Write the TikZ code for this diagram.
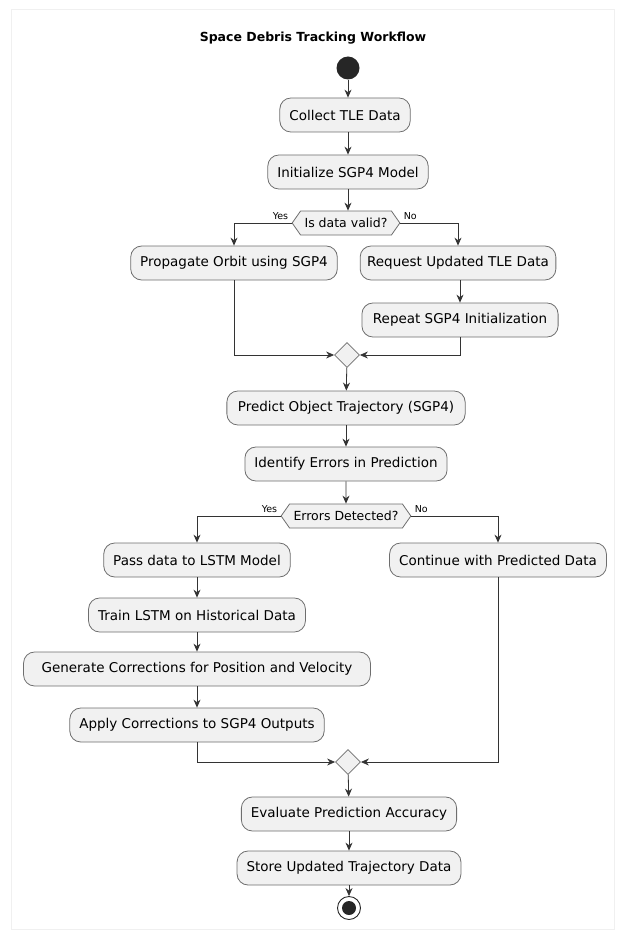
\documentclass[tikz,border=0pt]{standalone}
\usepackage{fontspec}
\setmainfont{DejaVu Sans}
\usetikzlibrary{arrows.meta,shapes.geometric,shapes.symbols}
\definecolor{boxfill}{HTML}{F1F1F1}
\definecolor{boxline}{HTML}{6E6E6E}
\tikzset{
    activity/.style={draw=boxline, fill=boxfill, line width=0.8pt, rounded corners=11pt,
        minimum height=34pt, inner xsep=9.5pt, font=\fontsize{13.5}{16}\selectfont},
    choice/.style={draw=boxline, fill=boxfill, line width=0.8pt, signal, signal to=west and east,
        signal pointer angle=110, minimum height=24pt, inner xsep=4pt, inner ysep=2pt,
        font=\fontsize{12.5}{15}\selectfont},
    merge/.style={draw=boxline, fill=boxfill, line width=0.8pt, diamond, minimum size=25pt, inner sep=0pt},
    flow/.style={draw=black!80, line width=0.8pt, -{Stealth[length=8pt,width=7pt]}},
    branch/.style={font=\fontsize{9.5}{11}\selectfont}
}
\begin{document}
\begin{tikzpicture}[x=1pt,y=-1pt]
        % Frame
        \useasboundingbox (0,0) rectangle (621,936);
        \draw[black!6, line width=0.8pt] (11,9) rectangle (614,929);
        
        % Title
        \node[font=\bfseries\fontsize{12.5}{15}\selectfont] (title) at (313,38) {Space Debris Tracking Workflow};
        
        % Start
        \node[circle, fill=black!85, minimum size=23pt, inner sep=0pt] (start) at (348,68) {};
        
        % Activities down to the first choice
        \node[activity] (collect) at (345,115) {Collect TLE Data};
        \node[activity] (init) at (348,172) {Initialize SGP4 Model};
        \node[choice] (valid) at (346,223) {Is data valid?};
        \node[branch, anchor=south east] (yes1) at (valid.west) {Yes};
        \node[branch, anchor=south west] (no1) at (valid.east) {No};
        
        \node[activity] (propagate) at (234,263) {Propagate Orbit using SGP4};
        \node[activity, inner xsep=7pt] (request) at (458,263) {Request Updated TLE Data};
        \node[activity, inner xsep=11pt] (repeat) at (460,320) {Repeat SGP4 Initialization};
        \node[merge] (join1) at (347,355) {};
        
        % Prediction
        \node[activity, inner xsep=11pt] (predict) at (346,408) {Predict Object Trajectory (SGP4)};
        \node[activity] (identify) at (346,464) {Identify Errors in Prediction};
        \node[choice] (errors) at (346,516) {Errors Detected?};
        \node[branch, anchor=south east] (yes2) at (errors.west) {Yes};
        \node[branch, anchor=south west] (no2) at (errors.east) {No};
        
        % LSTM branch
        \node[activity] (pass) at (197,560) {Pass data to LSTM Model};
        \node[activity] (train) at (197,615) {Train LSTM on Historical Data};
        \node[activity, inner xsep=18pt] (generate) at (197,669) {Generate Corrections for Position and Velocity};
        \node[activity] (apply) at (197,725) {Apply Corrections to SGP4 Outputs};
        \node[activity] (continue) at (498,560) {Continue with Predicted Data};
        \node[merge] (join2) at (348,762) {};
        
        % Final steps
        \node[activity] (evaluate) at (349,814) {Evaluate Prediction Accuracy};
        \node[activity] (store) at (349,868) {Store Updated Trajectory Data};
        \node[circle, draw=black!85, line width=0.9pt, minimum size=23pt, inner sep=0pt] (stop) at (349,908) {};
        \node[circle, fill=black!85, minimum size=14pt, inner sep=0pt] (stopdot) at (stop) {};
        
        % Connectors
        \draw[flow] (start) -- (start |- collect.north);
        \draw[flow] (collect.south -| init) -- (init);
        \draw[flow] (init) -- (init |- valid.north);
        \draw[flow] (valid.west) -| (propagate);
        \draw[flow] (valid.east) -| (request);
        \draw[flow] (request.south -| repeat) -- (repeat);
        \draw[flow] (propagate) |- (join1);
        \draw[flow] (repeat) |- (join1);
        \draw[flow] (join1) -- (predict);
        \draw[flow] (predict) -- (identify);
        \draw[flow] (identify) -- (errors);
        \draw[flow] (errors.west) -| (pass);
        \draw[flow] (errors.east) -| (continue);
        \draw[flow] (pass) -- (train);
        \draw[flow] (train) -- (generate);
        \draw[flow] (generate) -- (apply);
        \draw[flow] (apply) |- (join2);
        \draw[flow] (continue) |- (join2);
        \draw[flow] (join2) -- (evaluate);
        \draw[flow] (evaluate) -- (store);
        \draw[flow] (store) -- (stop);
    \end{tikzpicture}
\end{document}
